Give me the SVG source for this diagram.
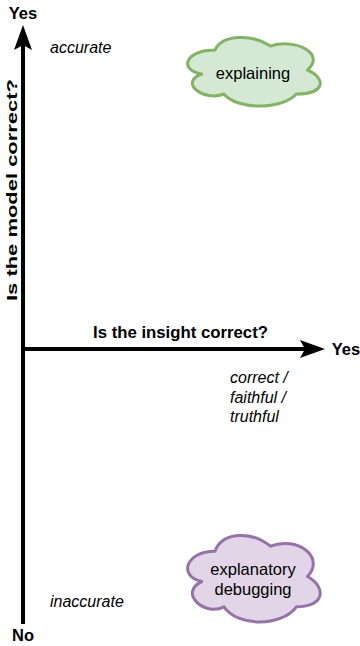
<svg xmlns="http://www.w3.org/2000/svg" width="360" height="646" viewBox="0 0 360 646">
  <style>
    text { font-family: "Liberation Sans", Arial, sans-serif; fill: #000; }
    .axis-label { font-size: 16px; font-weight: bold; }
    .end-label { font-size: 16.5px; font-weight: bold; text-anchor: middle; }
    .note { font-size: 16px; font-style: italic; }
    .cloud-text { font-size: 16.5px; text-anchor: middle; }
    .axis { stroke: #000; stroke-width: 4; fill: none; }
    .head { fill: #000; stroke: none; }
    .cloud { stroke-width: 3; stroke-linejoin: round; }
    .green { fill: #d5e8d4; stroke: #82b366; }
    .purple { fill: #e1d5e7; stroke: #9673a6; }
  </style>

  <g id="connectors">
    <!-- vertical axis: model correctness -->
    <line class="axis" x1="23" y1="624" x2="23" y2="44"/>
    <path class="head" d="M 23 25 L 32 50 L 23 45 L 14 50 Z"/>
    <!-- horizontal axis: insight correctness -->
    <line class="axis" x1="23" y1="349" x2="306" y2="349"/>
    <path class="head" d="M 325 349 L 300 358 L 305 349 L 300 340 Z"/>
  </g>

  <g id="axis-labels">
    <text class="end-label" x="23" y="19">Yes</text>
    <text class="end-label" x="23" y="641">No</text>
    <text class="end-label" x="346" y="355">Yes</text>
    <text class="axis-label" x="93" y="338" textLength="175" lengthAdjust="spacingAndGlyphs">Is the insight correct?</text>
    <text class="axis-label" style="font-size:15px" transform="translate(16.5,301) rotate(-90)" textLength="222" lengthAdjust="spacingAndGlyphs">Is the model correct?</text>
  </g>

  <g id="notes">
    <text class="note" x="50" y="53">accurate</text>
    <text class="note" x="50" y="607">inaccurate</text>
    <text class="note" x="230" y="383">correct /</text>
    <text class="note" x="230" y="403">faithful /</text>
    <text class="note" x="230" y="422">truthful</text>
  </g>

  <g id="explaining">
    <path class="cloud green" d="M 215 50 C 185.4 50 178 70 201.7 74 C 178 82.8 204.6 102 223.9 94 C 237.2 110 281.6 110 296.4 94 C 326 94 326 78 307.5 70 C 326 54 296.4 38 270.5 46 C 252 34 222.4 34 215 50 Z"/>
    <text class="cloud-text" x="253" y="79">explaining</text>
  </g>

  <g id="explanatory-debugging">
    <path class="cloud purple" d="M 215 551.25 C 185.4 551.25 178 576.5 201.7 581.55 C 178 592.66 204.6 616.9 223.9 606.8 C 237.2 627 281.6 627 296.4 606.8 C 326 606.8 326 586.6 307.5 576.5 C 326 556.3 296.4 536.1 270.5 546.2 C 252 531.05 222.4 531.05 215 551.25 Z"/>
    <text class="cloud-text" x="253" y="575">explanatory</text>
    <text class="cloud-text" x="253" y="595">debugging</text>
  </g>
</svg>
